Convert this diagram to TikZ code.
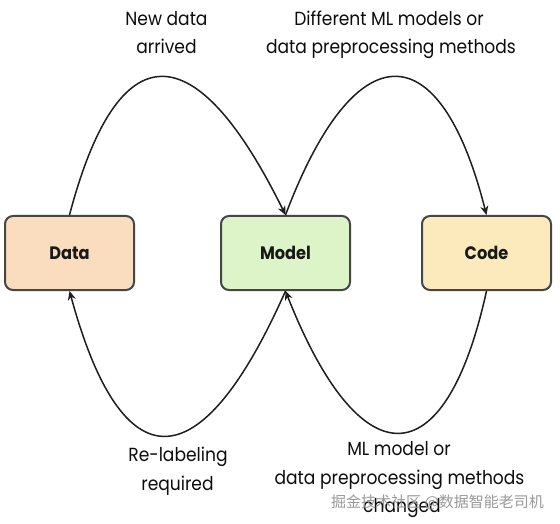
\documentclass[tikz,border=0pt]{standalone}
\usepackage{fontspec}
\setmainfont[FakeStretch=0.9]{Poppins}
\newfontfamily\cjkfont{Noto Sans CJK SC}
\usetikzlibrary{arrows.meta}
\definecolor{datafill}{RGB}{250,220,190}
\definecolor{modelfill}{RGB}{221,243,200}
\definecolor{codefill}{RGB}{252,234,188}
\definecolor{boxline}{RGB}{70,70,70}
\definecolor{arrowcol}{RGB}{30,30,30}
\begin{document}
\begin{tikzpicture}[x=1pt,y=-1pt,
  box/.style={draw=boxline, line width=2pt, rounded corners=8pt,
    minimum width=129pt, minimum height=74pt, inner sep=0pt,
    font=\fontsize{18}{21}\selectfont\bfseries, text=black!90},
  lbl/.style={anchor=base, inner sep=0pt, font=\fontsize{19}{23}\selectfont, text=black!95},
  flow/.style={line width=1.5pt, draw=arrowcol, -{Stealth[length=9pt,width=8pt]}},
  wmark/.style={inner sep=0pt, font=\cjkfont\fontsize{15}{18}\selectfont, text=black!40}
]
\useasboundingbox (0,0) rectangle (560,524);
\fill[white] (0,0) rectangle (560,524);

\node[box, fill=datafill]  (data)  at (69.5,253)  {Data};
\node[box, fill=modelfill] (model) at (285.5,253) {Model};
\node[box, fill=codefill]  (code)  at (486.5,253) {Code};

\draw[flow] (data.north) .. controls (118,31) and (195,31) .. (model.north);
\draw[flow] (model.north) .. controls (355,31) and (440,31) .. (code.north);
\draw[flow] (model.south) .. controls (200,484) and (122,484) .. (data.south);
\draw[flow] (code.south) .. controls (445,480) and (360,480) .. (model.south);

\node[lbl] (la1) at (166.5,26) {New data};
\node[lbl] (la2) at (166.5,54) {arrived};
\node[lbl] (lb1) at (389,26) {Different ML models or};
\node[lbl] (lb2) at (391,54) {data preprocessing methods};
\node[lbl] (lc1) at (178,461) {Re-labeling};
\node[lbl] (lc2) at (177.5,490) {required};
\node[lbl] (ld1) at (399,455) {ML model or};
\node[lbl] (ld2) at (399.5,484) {data preprocessing methods};
\node[lbl] (ld3) at (402,512) {changed};

\node[wmark] (wm) at (437.5,502) {掘金技术社区 @数据智能老司机};
\end{tikzpicture}
\end{document}
